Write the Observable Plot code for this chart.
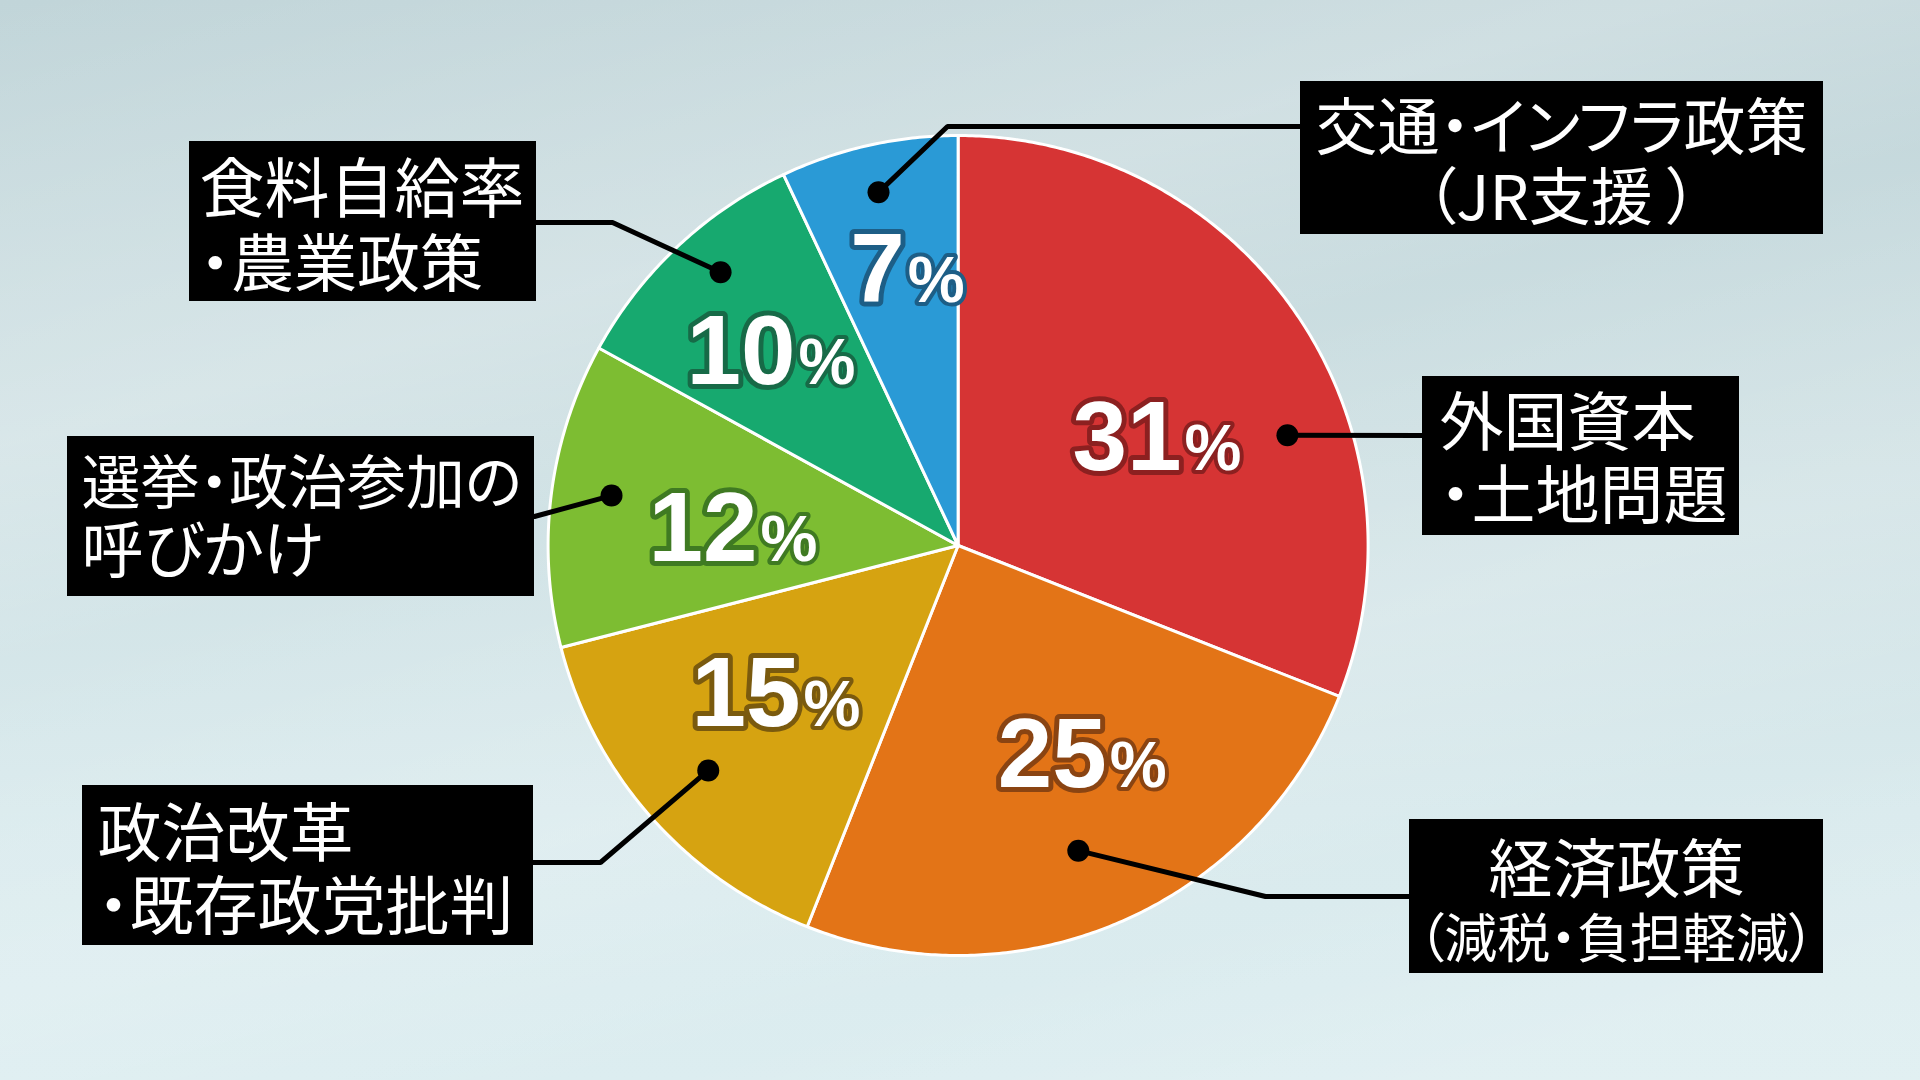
<!DOCTYPE html>
<html><head><meta charset="utf-8">
<script src="https://cdn.jsdelivr.net/npm/d3@7"></script>
<script src="https://cdn.jsdelivr.net/npm/@observablehq/plot@0.6"></script>
<style>
html,body{margin:0;padding:0;width:1920px;height:1080px;overflow:hidden;}
body{
  background:
    linear-gradient(165deg, rgba(255,255,255,0) 0%, rgba(255,255,255,0.22) 28%, rgba(255,255,255,0) 42%, rgba(255,255,255,0.18) 62%, rgba(255,255,255,0) 78%, rgba(255,255,255,0.15) 92%),
    linear-gradient(180deg, #c1d5d9 0%, #cee0e3 40%, #d9eaed 75%, #dcedf0 100%);
}
#chart svg{display:block;}
</style></head><body><div id="chart"></div>
<script>
// ---- data ----
const categories = [
  "外国資本\n・土地問題",
  "経済政策\n（減税・負担軽減）",
  "政治改革\n・既存政党批判",
  "選挙・政治参加の\n呼びかけ",
  "食料自給率\n・農業政策",
  "交通・インフラ政策\n（JR支援 ）"
];
const values = [31, 25, 15, 12, 10, 7];
const sliceColors = ["#D63434", "#E37417", "#D6A311", "#7DBD32", "#17A96F", "#2A9AD6"];
const outlineColors = ["#8C2020", "#8A4412", "#7A5A0E", "#3F7A22", "#176A47", "#1D5E86"];

// ---- layout (not data) ----
const W = 1920, H = 1080, CX = 957.6, CY = 545, R = 410;
const boxLayout = [
  {x1: 1422, x2: 1739, y1: 376, y2: 535, anchor: "start", tx: 1439, ly: [424, 497], fs: [64, 64]},
  {x1: 1409, x2: 1823, y1: 819, y2: 973, anchor: "middle", tx: 1616, ly: [871, 941], fs: [64, 53]},
  {x1: 82, x2: 533, y1: 785, y2: 945, anchor: "start", tx: 97, ly: [835, 908], fs: [64, 64]},
  {x1: 67, x2: 534, y1: 436, y2: 596, anchor: "start", tx: 81, ly: [485, 553], fs: [59, 62]},
  {x1: 189, x2: 536, y1: 141, y2: 301, anchor: "start", tx: 199, ly: [191, 265], fs: [65, 63]},
  {x1: 1300, x2: 1823, y1: 81, y2: 234, anchor: "middle", tx: 1561, ly: [130, 200], fs: [62, 62]}
];
const leaderVia = [
  [[1422, 435]],
  [[1265, 896], [1409, 896]],
  [[600, 862], [533, 862]],
  [[534, 516]],
  [[612, 222], [536, 222]],
  [[947, 126], [1300, 126]]
];
const dotPolar = [[15.7, 0.847], [1.9, 0.80], [-0.6, 0.82], [1, 0.854], [2.2, 0.883], [-0.1, 0.883]];
const pctPolar = [[15.6, 0.58], [-8.5, 0.695], [-7.9, 0.582], [-11.8, 0.486], [-1.7, 0.555], [0.7, 0.608]];

// ---- derived ----
const arcs = d3.pie().sort(null).value(d => d)(values);
const deg = r => r * 180 / Math.PI;
const polar = (a, rf) => [CX + rf * R * Math.sin(a * Math.PI / 180), CY - rf * R * Math.cos(a * Math.PI / 180)];

const slices = categories.map((cat, i) => {
  const a0 = deg(arcs[i].startAngle), a1 = deg(arcs[i].endAngle), mid = (a0 + a1) / 2;
  const dot = polar(mid + dotPolar[i][0], dotPolar[i][1]);
  const pct = polar(mid + pctPolar[i][0], pctPolar[i][1]);
  return {cat, value: values[i], a0, a1, mid, color: sliceColors[i], outline: outlineColors[i],
          dot, pct, box: boxLayout[i], via: leaderVia[i]};
});

const slicePts = slices.flatMap(s => {
  const pts = [{cat: s.cat, color: s.color, x: CX, y: CY}];
  const n = Math.max(4, Math.ceil((s.a1 - s.a0) * 2));
  for (let k = 0; k <= n; k++) {
    const [x, y] = polar(s.a0 + (s.a1 - s.a0) * k / n, 1);
    pts.push({cat: s.cat, color: s.color, x, y});
  }
  pts.push({cat: s.cat, color: s.color, x: CX, y: CY});
  return pts;
});

const leaderPts = slices.flatMap(s => [s.dot, ...s.via].map(([x, y]) => ({cat: s.cat, x, y})));

const labelLines = slices.flatMap(s => s.cat.split("\n").map((t, j) => ({
  t, x: s.box.tx, y: s.box.ly[j], fs: s.box.fs[j], anchor: s.box.anchor
})));

const labelFont = "'Noto Sans CJK JP', 'Noto Sans', sans-serif";
const numFont = "'Liberation Sans', Arial, sans-serif";

const chart = Plot.plot({
  width: W, height: H,
  margin: 0, marginTop: 0, marginRight: 0, marginBottom: 0, marginLeft: 0,
  x: {domain: [0, W], range: [0, W], axis: null},
  y: {domain: [0, H], range: [0, H], axis: null},
  color: {type: "identity"},
  style: {background: "transparent", overflow: "visible"},
  marks: [
    Plot.line(slicePts, {x: "x", y: "y", z: "cat", fill: "color", stroke: "white", strokeWidth: 3, strokeLinejoin: "round", curve: "linear"}),
    Plot.text(slices, {x: d => d.pct[0] - 2, y: d => d.pct[1], text: d => String(d.value), textAnchor: "end", lineAnchor: "bottom",
      fontSize: 98, fontWeight: 700, fontFamily: numFont, fill: "white", stroke: "outline", strokeWidth: 10,
      strokeLinejoin: "round", paintOrder: "stroke"}),
    Plot.text(slices, {x: d => d.pct[0] + 1, y: d => d.pct[1], text: () => "%", textAnchor: "start", lineAnchor: "bottom",
      fontSize: 64, fontWeight: 700, fontFamily: numFont, fill: "white", stroke: "outline", strokeWidth: 8,
      strokeLinejoin: "round", paintOrder: "stroke"}),
    Plot.line(leaderPts, {x: "x", y: "y", z: "cat", stroke: "black", strokeWidth: 5, strokeLinejoin: "miter", curve: "linear"}),
    Plot.dot(slices, {x: d => d.dot[0], y: d => d.dot[1], r: 11, fill: "black"}),
    Plot.rect(slices, {x1: d => d.box.x1, x2: d => d.box.x2, y1: d => d.box.y1, y2: d => d.box.y2, fill: "black"}),
    Plot.text(labelLines.filter(d => d.anchor === "start"), {x: "x", y: "y", text: "t", fontSize: d => d.fs,
      textAnchor: "start", lineAnchor: "middle", fontWeight: 400, fontFamily: labelFont, fill: "white"}),
    Plot.text(labelLines.filter(d => d.anchor === "middle"), {x: "x", y: "y", text: "t", fontSize: d => d.fs,
      textAnchor: "middle", lineAnchor: "middle", fontWeight: 400, fontFamily: labelFont, fill: "white"})
  ]
});
d3.select(chart).style("font-feature-settings", '"palt"');
d3.select(chart).selectAll("text").style("font-feature-settings", '"palt"');
document.getElementById("chart").appendChild(chart);
</script>
</body></html>
